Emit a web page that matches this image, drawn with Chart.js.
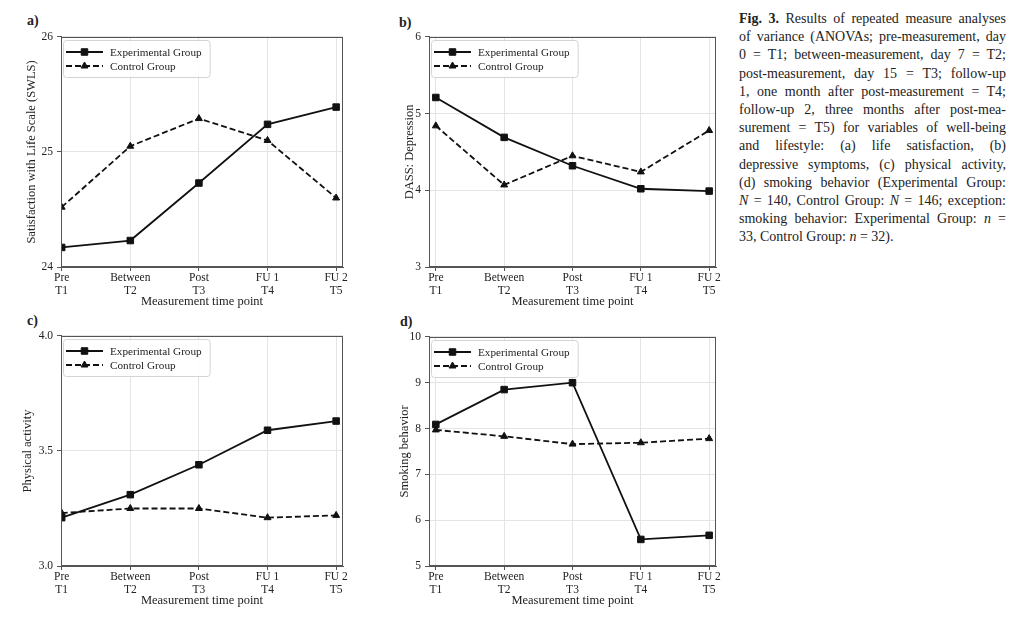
<!DOCTYPE html>
<html>
<head>
<meta charset="utf-8">
<script src="https://cdn.jsdelivr.net/npm/chart.js@4.4.0/dist/chart.umd.min.js"></script>
<style>
    html, body { margin: 0; padding: 0; background: #fff; }
    body { width: 1024px; height: 625px; position: relative; overflow: hidden; font-family: "Liberation Serif", "DejaVu Serif", serif; color: #222; }
    canvas { position: absolute; }
    .tag { position: absolute; font-weight: bold; font-size: 14px; line-height: 16px; }
    #caption { position: absolute; left: 739px; top: 10px; width: 267px; font-size: 14px; line-height: 18.2px; color: #222; }
    #caption div { text-align: justify; text-align-last: justify; white-space: nowrap; }
    #caption div.last { text-align-last: left; }
</style>
</head>
<body>
<div class="tag" style="left:27px;top:13px">a)</div>
<div class="tag" style="left:399px;top:15px">b)</div>
<div class="tag" style="left:27px;top:313px">c)</div>
<div class="tag" style="left:400px;top:314px">d)</div>

<canvas id="chartA"></canvas>
<canvas id="chartB"></canvas>
<canvas id="chartC"></canvas>
<canvas id="chartD"></canvas>

<div id="caption">
    <div><b>Fig. 3.</b> Results of repeated measure analyses</div>
    <div>of variance (ANOVAs; pre-measurement, day</div>
    <div>0 = T1; between-measurement, day 7 = T2;</div>
    <div>post-measurement, day 15 = T3; follow-up</div>
    <div>1, one month after post-measurement = T4;</div>
    <div>follow-up 2, three months after post-mea-</div>
    <div>surement = T5) for variables of well-being</div>
    <div>and lifestyle: (a) life satisfaction, (b)</div>
    <div>depressive symptoms, (c) physical activity,</div>
    <div>(d) smoking behavior (Experimental Group:</div>
    <div><i>N</i> = 140, Control Group: <i>N</i> = 146; exception:</div>
    <div>smoking behavior: Experimental Group: <i>n</i> =</div>
    <div class="last">33, Control Group: <i>n</i> = 32).</div>
</div>

<script>
// Eixo X (momentos de medição)
const timeLabels = [['Pre', 'T1'], ['Between', 'T2'], ['Post', 'T3'], ['FU 1', 'T4'], ['FU 2', 'T5']];
const timeIdx = [0, 1, 2, 3, 4];
const groupNames = ['Experimental Group', 'Control Group'];

// a) Satisfaction with Life Scale
const swlsExp = [24.17, 24.23, 24.73, 25.24, 25.39];
const swlsCtrl = [24.52, 25.05, 25.29, 25.10, 24.60];
const swlsTicks = [24, 25, 26];

// b) DASS: Depression
const dassExp = [5.21, 4.69, 4.32, 4.02, 3.99];
const dassCtrl = [4.84, 4.07, 4.45, 4.24, 4.78];
const dassTicks = [3, 4, 5, 6];

// c) Physical activity
const paExp = [3.21, 3.31, 3.44, 3.59, 3.63];
const paCtrl = [3.23, 3.25, 3.25, 3.21, 3.22];
const paTicks = [3.0, 3.5, 4.0];

// d) Smoking behavior
const smokeExp = [8.09, 8.85, 9.00, 5.58, 5.67];
const smokeCtrl = [7.97, 7.83, 7.66, 7.69, 7.78];
const smokeTicks = [5, 6, 7, 8, 9, 10];

const colors = {
    line: '#111111',
    text: '#222222',
    grid: '#e4e4e4',
    spine: '#555555',
};
const serif = '"Liberation Serif", "DejaVu Serif", serif';

// moldura completa (topo e direita também)
const frame = {
    id: 'frame',
    afterDatasetsDraw(chart) {
        const {ctx, chartArea: a} = chart;
        ctx.save();
        ctx.strokeStyle = colors.spine;
        ctx.lineWidth = 1;
        ctx.strokeRect(Math.round(a.left) + 0.5, Math.round(a.top) + 0.5,
            Math.round(a.right - a.left) - 1, Math.round(a.bottom - a.top) - 1);
        ctx.restore();
    }
};

// legenda dentro da área do gráfico (estilo matplotlib)
const insideLegend = {
    id: 'insideLegend',
    afterDraw(chart) {
        const {ctx, chartArea} = chart;
        const x0 = Math.round(chartArea.left) + 2;
        const y0 = Math.round(chartArea.top) + 3;
        ctx.save();
        ctx.font = '11.2px ' + serif;
        const tw = Math.max(...chart.data.datasets.map(d => ctx.measureText(d.label).width));
        const w = 47 + tw + 8, h = 37;
        ctx.fillStyle = 'rgba(255,255,255,0.85)';
        ctx.strokeStyle = '#d4d4d4';
        ctx.lineWidth = 1;
        ctx.beginPath();
        ctx.roundRect(x0 + 0.5, y0 + 0.5, w, h, 3);
        ctx.fill();
        ctx.stroke();
        chart.data.datasets.forEach((ds, i) => {
            const y = y0 + 12 + i * 14;
            ctx.strokeStyle = ds.borderColor;
            ctx.fillStyle = ds.borderColor;
            ctx.lineWidth = ds.borderWidth;
            ctx.setLineDash(ds.borderDash || []);
            ctx.beginPath();
            ctx.moveTo(x0 + 3, y);
            ctx.lineTo(x0 + 40, y);
            ctx.stroke();
            ctx.setLineDash([]);
            ctx.lineWidth = 1;
            Chart.helpers.drawPoint(ctx, {
                pointStyle: ds.pointStyle, radius: ds.pointRadius, rotation: 0, borderWidth: 1
            }, x0 + 21.5, y);
            ctx.fillStyle = colors.text;
            ctx.textBaseline = 'middle';
            ctx.fillText(ds.label, x0 + 47, y + 1);
        });
        ctx.restore();
    }
};

function makeChart(id, geo, opts) {
    const el = document.getElementById(id);
    const yW = 56, padTop = 10, padRight = 16, xH = 52;
    el.width = geo.R - geo.L + yW + padRight;
    el.height = geo.B - geo.T + padTop + xH;
    el.style.left = (geo.L - yW) + 'px';
    el.style.top = (geo.T - padTop) + 'px';

    const toPts = arr => arr.map((v, i) => ({x: timeIdx[i], y: v}));

    new Chart(el, {
        type: 'line',
        data: {
            datasets: [{
                label: groupNames[0],
                data: toPts(opts.exp),
                borderColor: colors.line,
                backgroundColor: colors.line,
                borderWidth: 1.8,
                pointStyle: 'rect',
                pointRadius: 4.6,
                pointBackgroundColor: colors.line,
                pointBorderColor: colors.line,
                pointBorderWidth: 1,
                tension: 0,
            }, {
                label: groupNames[1],
                data: toPts(opts.ctrl),
                borderColor: colors.line,
                backgroundColor: colors.line,
                borderWidth: 1.8,
                borderDash: [6, 3],
                pointStyle: 'triangle',
                pointRadius: 4,
                pointBackgroundColor: colors.line,
                pointBorderColor: colors.line,
                pointBorderWidth: 1,
                tension: 0,
            }]
        },
        options: {
            responsive: false,
            animation: false,
            layout: { padding: { left: 0, top: padTop, right: padRight, bottom: 0 } },
            plugins: { legend: { display: false }, tooltip: { enabled: false } },
            scales: {
                x: {
                    type: 'linear',
                    min: opts.xMin,
                    max: 4.1,
                    afterBuildTicks: s => { s.ticks = timeIdx.map(v => ({value: v})); },
                    afterFit: s => { s.height = xH; },
                    grid: { color: colors.grid, tickColor: colors.spine, tickLength: 4, drawTicks: true },
                    border: { color: colors.spine, width: 1 },
                    ticks: {
                        color: colors.text,
                        font: { family: serif, size: 11.5, lineHeight: 1.1 },
                        padding: 1,
                        maxRotation: 0,
                        autoSkip: false,
                        callback: v => timeLabels[v],
                    },
                    title: {
                        display: true,
                        text: 'Measurement time point',
                        color: colors.text,
                        font: { family: serif, size: 12.5, lineHeight: 1.2 },
                        padding: { top: 0, bottom: 9.5 },
                    }
                },
                y: {
                    min: opts.yTicks[0],
                    max: opts.yTicks[opts.yTicks.length - 1],
                    afterBuildTicks: s => { s.ticks = opts.yTicks.map(v => ({value: v})); },
                    afterFit: s => { s.width = yW; },
                    grid: { color: colors.grid, tickColor: colors.spine, tickLength: 4, drawTicks: true },
                    border: { color: colors.spine, width: 1 },
                    ticks: {
                        color: colors.text,
                        font: { family: serif, size: 11.5 },
                        padding: 4,
                        callback: v => opts.fmt ? v.toFixed(1) : v,
                    },
                    title: {
                        display: true,
                        text: opts.yTitle,
                        color: colors.text,
                        font: { family: serif, size: 12.5, lineHeight: 1.2 },
                        padding: { top: opts.titleOff, bottom: 0 },
                    }
                }
            }
        },
        plugins: [frame, insideLegend]
    });
}

makeChart('chartA', {L: 61, T: 36, R: 343, B: 267}, {
    exp: swlsExp, ctrl: swlsCtrl, yTicks: swlsTicks, xMin: -0.01,
    yTitle: 'Satisfaction with Life Scale (SWLS)', titleOff: 19.5
});
makeChart('chartB', {L: 429, T: 36, R: 716, B: 267}, {
    exp: dassExp, ctrl: dassCtrl, yTicks: dassTicks, xMin: -0.1,
    yTitle: 'DASS: Depression', titleOff: 29.5
});
makeChart('chartC', {L: 61, T: 335, R: 343, B: 566}, {
    exp: paExp, ctrl: paCtrl, yTicks: paTicks, xMin: -0.01, fmt: true,
    yTitle: 'Physical activity', titleOff: 15.5
});
makeChart('chartD', {L: 429, T: 336, R: 716, B: 566}, {
    exp: smokeExp, ctrl: smokeCtrl, yTicks: smokeTicks, xMin: -0.1,
    yTitle: 'Smoking behavior', titleOff: 24.5
});
</script>
</body>
</html>
